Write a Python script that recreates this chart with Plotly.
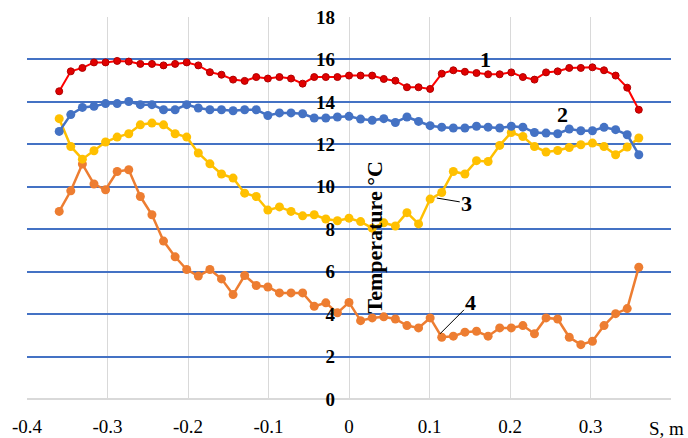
import plotly.graph_objects as go

# positions along the section, m
s_m = [
    -0.36, -0.3456, -0.3312, -0.3168, -0.3024, -0.288, -0.2736, -0.2592, -0.2448, -0.2304,
    -0.216, -0.2016, -0.1872, -0.1728, -0.1584, -0.144, -0.1296, -0.1152, -0.1008, -0.0864,
    -0.072, -0.0576, -0.0432, -0.0288, -0.0144, 0.0, 0.0144, 0.0288, 0.0432, 0.0576,
    0.072, 0.0864, 0.1008, 0.1152, 0.1296, 0.144, 0.1584, 0.1728, 0.1872, 0.2016,
    0.216, 0.2304, 0.2448, 0.2592, 0.2736, 0.288, 0.3024, 0.3168, 0.3312, 0.3456, 0.36,
]

# temperature curves 1..4, °C
curve_1 = [
    14.5, 15.44, 15.6, 15.86, 15.86, 15.93, 15.9, 15.79, 15.79, 15.72,
    15.79, 15.86, 15.72, 15.4, 15.28, 15.05, 14.99, 15.17, 15.1, 15.17,
    15.1, 14.86, 15.17, 15.17, 15.17, 15.24, 15.24, 15.24, 15.08, 15.0,
    14.69, 14.69, 14.61, 15.33, 15.49, 15.42, 15.36, 15.3, 15.3, 15.39,
    15.17, 15.05, 15.39, 15.44, 15.6, 15.6, 15.63, 15.49, 15.24, 14.67, 13.63,
]
curve_2 = [
    12.61, 13.4, 13.74, 13.79, 13.92, 13.92, 14.02, 13.87, 13.87, 13.63,
    13.63, 13.87, 13.71, 13.63, 13.63, 13.58, 13.63, 13.63, 13.36, 13.48,
    13.48, 13.44, 13.24, 13.24, 13.29, 13.32, 13.19, 13.13, 13.21, 13.03,
    13.29, 13.08, 12.88, 12.81, 12.77, 12.77, 12.85, 12.81, 12.77, 12.85,
    12.81, 12.56, 12.53, 12.5, 12.72, 12.64, 12.64, 12.8, 12.69, 12.45, 11.51,
]
curve_3 = [
    13.21, 11.9, 11.3, 11.7, 12.11, 12.34, 12.5, 12.92, 13.0, 12.92,
    12.5, 12.34, 11.59, 11.08, 10.6, 10.41, 9.7, 9.54, 8.9, 9.05,
    8.84, 8.63, 8.68, 8.48, 8.4, 8.52, 8.36, 8.05, 8.3, 8.15,
    8.78, 8.25, 9.42, 9.73, 10.72, 10.6, 11.23, 11.19, 11.95, 12.56,
    12.37, 11.9, 11.64, 11.71, 11.85, 11.98, 12.06, 11.9, 11.51, 11.87, 12.3,
]
curve_4 = [
    8.84, 9.81, 11.07, 10.13, 9.86, 10.72, 10.8, 9.54, 8.68, 7.44,
    6.7, 6.1, 5.79, 6.1, 5.66, 4.92, 5.82, 5.35, 5.28, 5.0,
    5.0, 5.0, 4.37, 4.53, 4.06, 4.55, 3.69, 3.82, 3.87, 3.77,
    3.46, 3.35, 3.82, 2.91, 2.96, 3.15, 3.19, 2.96, 3.35, 3.35,
    3.46, 3.07, 3.82, 3.77, 2.91, 2.56, 2.72, 3.46, 4.02, 4.26, 6.21,
]

x_ticks = [-0.4, -0.3, -0.2, -0.1, 0.0, 0.1, 0.2, 0.3, 0.4]
x_tick_text = ["-0.4", "-0.3", "-0.2", "-0.1", "0", "0.1", "0.2", "0.3", ""]
y_ticks = [0, 2, 4, 6, 8, 10, 12, 14, 16, 18]

SERIF = "Liberation Serif"

fig = go.Figure()

# 4 и 3 снизу, 1 поверх всех
fig.add_trace(go.Scatter(
    x=s_m, y=curve_4, mode="lines+markers", name="4",
    line=dict(color="#ED7D31", width=2.5), marker=dict(size=9, color="#ED7D31"),
))
fig.add_trace(go.Scatter(
    x=s_m, y=curve_3, mode="lines+markers", name="3",
    line=dict(color="#FFC000", width=2.5), marker=dict(size=9, color="#FFC000"),
))
fig.add_trace(go.Scatter(
    x=s_m, y=curve_2, mode="lines+markers", name="2",
    line=dict(color="#4472C4", width=2.5), marker=dict(size=9, color="#4472C4"),
))
fig.add_trace(go.Scatter(
    x=s_m, y=curve_1, mode="lines+markers", name="1",
    line=dict(color="#FF0000", width=2),
    marker=dict(size=7, color="#E00000", line=dict(color="#B00000", width=1)),
))

label_font = dict(family=SERIF, size=22, color="black", weight="bold")
fig.add_annotation(x=0.169, y=16.0, text="1", showarrow=False, font=label_font)
fig.add_annotation(x=0.265, y=13.4, text="2", showarrow=False, font=label_font)
fig.add_annotation(x=0.109, y=9.47, text="3", showarrow=True, arrowhead=0,
                   arrowwidth=1, arrowcolor="black", ax=30, ay=5, font=label_font)
fig.add_annotation(x=0.113, y=3.07, text="4", showarrow=True, arrowhead=0,
                   arrowwidth=1, arrowcolor="black", ax=31, ay=-31, font=label_font)

fig.add_annotation(x=0.032, y=7.6, text="Temperature °C", textangle=-90, showarrow=False,
                   font=dict(family=SERIF, size=22, color="black", weight="bold"))
fig.add_annotation(x=1.0, xref="paper", xanchor="right", xshift=15,
                   y=-0.078, yref="paper", yanchor="middle", text="S, m", showarrow=False,
                   font=dict(family=SERIF, size=19, color="black"))

fig.update_layout(
    width=688,
    height=438,
    margin=dict(l=27, r=17, t=17, b=39),
    paper_bgcolor="white",
    plot_bgcolor="white",
    showlegend=False,
    xaxis=dict(
        range=[-0.4, 0.4], tickvals=x_ticks, ticktext=x_tick_text,
        showgrid=True, gridcolor="#D9D9D9", gridwidth=1,
        zeroline=False, showline=False, ticks="", automargin=False,
        ticklabelstandoff=14,
        tickfont=dict(family=SERIF, size=19, color="black"),
    ),
    yaxis=dict(
        range=[0, 18], tickvals=y_ticks,
        anchor="free", position=0.5, automargin=False,
        showgrid=True, gridcolor="#4472C4", gridwidth=1.5,
        zeroline=True, zerolinecolor="#D9D9D9", zerolinewidth=1.5,
        showline=False, ticks="", ticklabelstandoff=14,
        tickfont=dict(family=SERIF, size=19, color="black", weight="bold"),
    ),
)

# убрать стандартный отступ body, чтобы график встал ровно в окно
fig.write_html(
    "out.html",
    config={"displayModeBar": False},
    post_script="document.body.style.margin='0';",
)
